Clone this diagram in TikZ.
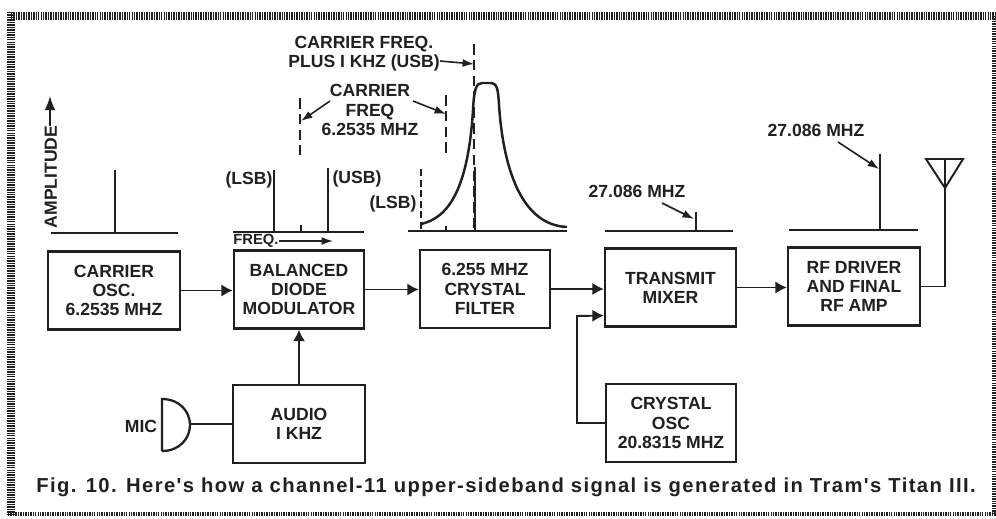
\documentclass[tikz,border=0pt]{standalone}
\usepackage{fontspec}
\setmainfont{Liberation Sans}
\newfontfamily\capfont[LetterSpace=7]{Liberation Sans}
\usetikzlibrary{arrows.meta, positioning, calc}
\definecolor{mink}{RGB}{32,32,32}
\tikzset{
  block/.style={draw=mink,line width=1.4pt,minimum width=2.6cm,minimum height=1.56cm,align=center,font=\fontsize{10}{10.9}\selectfont\bfseries,text=mink},
  lbl/.style={align=center,font=\fontsize{10}{10.9}\selectfont\bfseries,text=mink,inner sep=0pt},
  sig/.style={draw=mink,line width=1.1pt,-{Latex[length=6.5pt,width=7pt]}},
  wire/.style={draw=mink,line width=1.1pt},
  note/.style={draw=mink,line width=0.9pt,-{Latex[length=6.5pt,width=4.5pt]}},
  baseln/.style={draw=mink,line width=1pt},
  spike/.style={draw=mink,line width=1.2pt},
  dashln/.style={draw=mink,line width=1pt,dash pattern=on 6pt off 3pt},
  frameline/.style={draw=mink,line width=4pt,dash pattern=on 0.8pt off 0.6pt}
}
\begin{document}
\begin{tikzpicture}[x=0.02cm,y=-0.02cm]
  \useasboundingbox (0,0) rectangle (996,518);
  \fill[white] (0,0) rectangle (996,518);
  % Hatched frame
  \draw[frameline] (11,16) -- (996,16);
  \draw[frameline] (11,12) -- (11,514);
  \draw[frameline,line width=2.6pt] (8,514) -- (996,514);
  \draw[frameline,line width=2pt] (994,16) -- (994,514);
  % Blocks
  \node[block,minimum width=2.64cm] (carrier) at (114,290.5) {CARRIER\\OSC.\\6.2535 MHZ};
  \node[block] (modulator) at (299,289.5) {BALANCED\\DIODE\\MODULATOR};
  \node[block] (filter) at (485,289) {6.255 MHZ\\CRYSTAL\\FILTER};
  \node[block,minimum width=2.62cm] (mixer) at (670.5,287.5) {TRANSMIT\\MIXER};
  \node[block,minimum width=2.64cm] (driver) at (854,286.5) {RF DRIVER\\AND FINAL\\RF AMP};
  \node[block,minimum width=2.64cm] (audio) at (299,424) {AUDIO\\I KHZ};
  \node[block] (crystal) at (671,423) {CRYSTAL\\OSC\\20.8315 MHZ};
  % Signal path
  \draw[sig] (carrier.east) -- (carrier.east -| modulator.west);
  \draw[sig] (modulator.east) -- (modulator.east -| filter.west);
  \draw[sig] (filter.east) -- (filter.east -| mixer.west);
  \draw[sig] (mixer.east) -- (mixer.east -| driver.west);
  \draw[sig] (audio.north) -- (audio.north |- modulator.south);
  \coordinate (mixerin) at ($(mixer.west)+(0,28)$);
  \draw[sig] (crystal.west) -| (577,316) -- (mixerin);
  % Mic
  \coordinate (mictop) at (162,399);
  \coordinate (micbot) at (162,451);
  \draw[wire,line width=1.3pt] (micbot) -- (mictop) .. controls (180,399) and (190,412) .. (190,425)
    .. controls (190,438) and (180,451) .. (micbot);
  \coordinate (micout) at (190,424);
  \draw[wire] (micout) -- (audio.west);
  \node[lbl] (miclbl) at (141,426) {MIC};
  % Antenna
  \coordinate (anttip) at (945,188);
  \draw[wire] (driver.east) -| (anttip);
  \draw[wire] (926,159) -- (963,159) -- (anttip) -- cycle;
  \draw[wire,line width=0.7pt] (945,159) -- (anttip);
  % Carrier spectrum
  \draw[baseln] (51,233) -- (178,233);
  \draw[spike] (115,170) -- (115,233);
  \node[lbl,rotate=90] (amplbl) at (51,177) {AMPLITUDE};
  \coordinate (amptop) at (50,96);
  \coordinate (ampstart) at (50,126);
  \draw[note,-{Latex[length=8pt,width=6pt]}] (ampstart) -- (amptop);
  % Modulator spectrum
  \draw[baseln] (233,232) -- (364,232);
  \draw[spike] (274,170) -- (274,232);
  \draw[spike] (328,168) -- (328,232);
  \draw[spike] (301,225) -- (301,232);
  \draw[dashln] (300,98) -- (300,155);
  \draw[dashln] (446,95) -- (446,153);
  \node[lbl] (lsba) at (249,180) {(LSB)};
  \node[lbl] (usba) at (357,179) {(USB)};
  \node[lbl,font=\fontsize{8.4}{9}\selectfont\bfseries] (freqlbl) at (256,241) {FREQ.};
  \coordinate (freqend) at (333,241);
  \draw[note] (freqlbl.east) -- (freqend);
  % Filter spectrum
  \draw[baseln] (408,231) -- (567,231);
  \draw[wire,line width=1.4pt] (421,224) .. controls (448,218) and (468,190) .. (473,110)
    .. controls (474,90) and (476,83) .. (482,83) -- (490,83)
    .. controls (497,83) and (498,88) .. (499,105)
    .. controls (503,165) and (520,225) .. (567,227);
  \draw[dashln] (474,44) -- (474,231);
  \draw[spike,line width=1.5pt] (475,167) -- (475,231);
  \draw[dashln,dash pattern=on 4pt off 2pt] (421,169) -- (421,231);
  \draw[spike] (446,226) -- (446,231);
  \node[lbl] (lsbb) at (393,204) {(LSB)};
  % Notes over the filter
  \node[lbl] (cfplus) at (364,54) {CARRIER FREQ.\\PLUS I KHZ (USB)};
  \coordinate (cfplusend) at (474,64);
  \coordinate (cfpluss) at (440,61);
  \draw[note] (cfpluss) -- (cfplusend);
  \node[lbl] (cflbl) at (370,110) {CARRIER\\FREQ\\6.2535 MHZ};
  \coordinate (cfl) at (301,121);
  \coordinate (cfr) at (446,114);
  \coordinate (cfls) at (330,101);
  \coordinate (cfrs) at (413,101);
  \draw[note] (cfls) -- (cfl);
  \draw[note] (cfrs) -- (cfr);
  % Mixer spectrum
  \draw[baseln] (605,231) -- (733,231);
  \draw[spike] (696,212) -- (696,231);
  \node[lbl] (mixlbl) at (637,191) {27.086 MHZ};
  \coordinate (mixnote) at (694,219);
  \coordinate (mixnotes) at (662,203);
  \draw[note] (mixnotes) -- (mixnote);
  % Output spectrum
  \draw[baseln] (789,230) -- (918,230);
  \draw[spike] (880,154) -- (880,230);
  \node[lbl] (outlbl) at (816,130) {27.086 MHZ};
  \coordinate (outnote) at (879,169);
  \coordinate (outnotes) at (838,142);
  \draw[note] (outnotes) -- (outnote);
  % Caption
  \node[lbl,font=\capfont\fontsize{11.5}{12}\selectfont\bfseries] (caption) at (506,487)
    {Fig. 10. Here's how a channel-11 upper-sideband signal is generated in Tram's Titan III.};
\end{tikzpicture}
\end{document}
